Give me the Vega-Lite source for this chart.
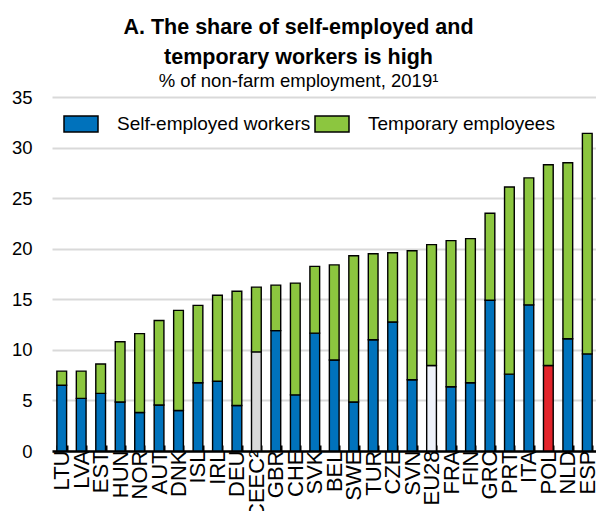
{
  "$schema": "https://vega.github.io/schema/vega-lite/v6.json",
  "autosize": "none",
  "width": 545,
  "height": 354,
  "padding": {"left": 52, "top": 97, "right": 0, "bottom": 60},
  "background": "white",
  "title": {
    "text": ["A. The share of self-employed and", "temporary workers is high"],
    "subtitle": "% of non-farm employment, 2019¹",
    "anchor": "middle",
    "frame": "group",
    "dx": -26,
    "offset": -2,
    "font": "Liberation Sans",
    "fontSize": 21.5,
    "fontWeight": "bold",
    "lineHeight": 30,
    "color": "#000000",
    "subtitleFont": "Liberation Sans",
    "subtitleFontSize": 18.5,
    "subtitleColor": "#000000",
    "subtitlePadding": 3
  },
  "data": {
    "values": [
      {"country": "LTU", "type": "Self-employed workers", "value": 6.5},
      {"country": "LTU", "type": "Temporary employees", "value": 1.4},
      {"country": "LVA", "type": "Self-employed workers", "value": 5.2},
      {"country": "LVA", "type": "Temporary employees", "value": 2.7},
      {"country": "EST", "type": "Self-employed workers", "value": 5.7},
      {"country": "EST", "type": "Temporary employees", "value": 2.9},
      {"country": "HUN", "type": "Self-employed workers", "value": 4.85},
      {"country": "HUN", "type": "Temporary employees", "value": 5.95},
      {"country": "NOR", "type": "Self-employed workers", "value": 3.8},
      {"country": "NOR", "type": "Temporary employees", "value": 7.8},
      {"country": "AUT", "type": "Self-employed workers", "value": 4.55},
      {"country": "AUT", "type": "Temporary employees", "value": 8.35},
      {"country": "DNK", "type": "Self-employed workers", "value": 4.0},
      {"country": "DNK", "type": "Temporary employees", "value": 9.9},
      {"country": "ISL", "type": "Self-employed workers", "value": 6.75},
      {"country": "ISL", "type": "Temporary employees", "value": 7.65},
      {"country": "IRL", "type": "Self-employed workers", "value": 6.9},
      {"country": "IRL", "type": "Temporary employees", "value": 8.5},
      {"country": "DEU", "type": "Self-employed workers", "value": 4.5},
      {"country": "DEU", "type": "Temporary employees", "value": 11.3},
      {"country": "CEEC²", "type": "Self-employed workers", "value": 9.8},
      {"country": "CEEC²", "type": "Temporary employees", "value": 6.4},
      {"country": "GBR", "type": "Self-employed workers", "value": 11.9},
      {"country": "GBR", "type": "Temporary employees", "value": 4.5},
      {"country": "CHE", "type": "Self-employed workers", "value": 5.55},
      {"country": "CHE", "type": "Temporary employees", "value": 11.05},
      {"country": "SVK", "type": "Self-employed workers", "value": 11.65},
      {"country": "SVK", "type": "Temporary employees", "value": 6.6},
      {"country": "BEL", "type": "Self-employed workers", "value": 9.0},
      {"country": "BEL", "type": "Temporary employees", "value": 9.4},
      {"country": "SWE", "type": "Self-employed workers", "value": 4.85},
      {"country": "SWE", "type": "Temporary employees", "value": 14.45},
      {"country": "TUR", "type": "Self-employed workers", "value": 11.0},
      {"country": "TUR", "type": "Temporary employees", "value": 8.5},
      {"country": "CZE", "type": "Self-employed workers", "value": 12.75},
      {"country": "CZE", "type": "Temporary employees", "value": 6.85},
      {"country": "SVN", "type": "Self-employed workers", "value": 7.05},
      {"country": "SVN", "type": "Temporary employees", "value": 12.75},
      {"country": "EU28", "type": "Self-employed workers", "value": 8.45},
      {"country": "EU28", "type": "Temporary employees", "value": 11.95},
      {"country": "FRA", "type": "Self-employed workers", "value": 6.35},
      {"country": "FRA", "type": "Temporary employees", "value": 14.45},
      {"country": "FIN", "type": "Self-employed workers", "value": 6.75},
      {"country": "FIN", "type": "Temporary employees", "value": 14.25},
      {"country": "GRC", "type": "Self-employed workers", "value": 14.9},
      {"country": "GRC", "type": "Temporary employees", "value": 8.6},
      {"country": "PRT", "type": "Self-employed workers", "value": 7.6},
      {"country": "PRT", "type": "Temporary employees", "value": 18.5},
      {"country": "ITA", "type": "Self-employed workers", "value": 14.45},
      {"country": "ITA", "type": "Temporary employees", "value": 12.55},
      {"country": "POL", "type": "Self-employed workers", "value": 8.45},
      {"country": "POL", "type": "Temporary employees", "value": 19.85},
      {"country": "NLD", "type": "Self-employed workers", "value": 11.1},
      {"country": "NLD", "type": "Temporary employees", "value": 17.4},
      {"country": "ESP", "type": "Self-employed workers", "value": 9.6},
      {"country": "ESP", "type": "Temporary employees", "value": 21.8}
    ]
  },
  "mark": {"type": "bar", "stroke": "#000000", "strokeWidth": 1.4},
  "encoding": {
    "x": {
      "field": "country",
      "type": "nominal",
      "sort": null,
      "scale": {"paddingInner": 0.5, "paddingOuter": 0.25},
      "axis": {
        "title": null,
        "labelAngle": -90,
        "labelAlign": "right",
        "labelBaseline": "middle",
        "labelFont": "Liberation Sans",
        "labelFontSize": 22,
        "labelColor": "#000000",
        "labelPadding": 5,
        "labelOverlap": false,
        "domainColor": "#000000",
        "domainWidth": 2.5,
        "tickBand": "extent",
        "tickColor": "#000000",
        "tickWidth": 2,
        "tickSize": -6,
        "grid": false
      }
    },
    "y": {
      "field": "value",
      "type": "quantitative",
      "stack": "zero",
      "scale": {"domain": [0, 35], "nice": false},
      "axis": {
        "title": null,
        "values": [0, 5, 10, 15, 20, 25, 30, 35],
        "domain": false,
        "ticks": false,
        "labelFont": "Liberation Sans",
        "labelFontSize": 18.5,
        "labelColor": "#000000",
        "labelPadding": 20,
        "gridColor": "#d9d9d9",
        "gridWidth": 2
      }
    },
    "order": {"field": "type", "sort": "ascending"},
    "fill": {
      "condition": [
        {"test": "datum.type === 'Self-employed workers' && datum.country === 'POL'", "value": "#e3242b"},
        {"test": "datum.type === 'Self-employed workers' && datum.country === 'CEEC²'", "value": "#d9d9d9"},
        {"test": "datum.type === 'Self-employed workers' && datum.country === 'EU28'", "value": "#eef2fa"}
      ],
      "field": "type",
      "type": "nominal",
      "scale": {
        "domain": ["Self-employed workers", "Temporary employees"],
        "range": ["#0072bc", "#8cc63f"]
      },
      "legend": {
        "title": null,
        "orient": "none",
        "legendX": 11,
        "legendY": 9,
        "direction": "horizontal",
        "symbolType": "M-1,-0.47H1V0.47H-1Z",
        "symbolSize": 1156,
        "symbolStrokeColor": "#000000",
        "symbolStrokeWidth": 1.5,
        "symbolOpacity": 1,
        "labelFont": "Liberation Sans",
        "labelFontSize": 19,
        "labelColor": "#000000",
        "labelOffset": 18,
        "columnPadding": 1,
        "labelLimit": 400
      }
    }
  },
  "config": {
    "view": {"stroke": null}
  }
}
